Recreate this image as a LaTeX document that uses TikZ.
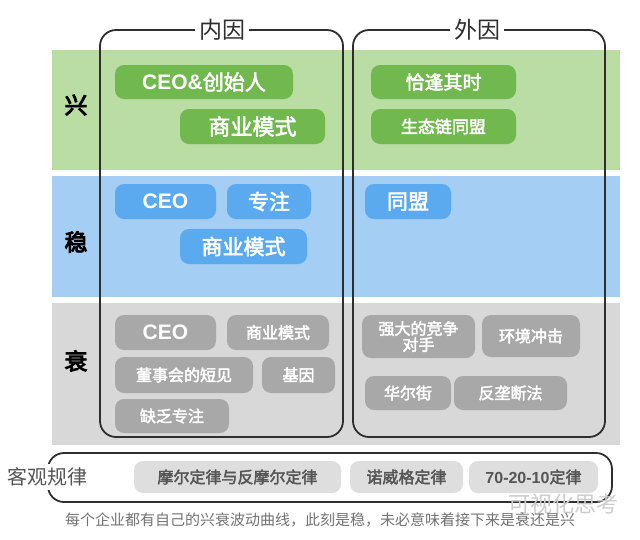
\documentclass[tikz,border=0pt]{standalone}
\usepackage{fontspec}
\setmainfont{Liberation Sans}
\newfontfamily\cjk[AutoFakeBold=2.5]{Noto Sans CJK SC}
\newfontfamily\cjkr{Noto Sans CJK SC}
\newfontfamily\cjkh[AutoFakeBold=4]{Noto Sans CJK SC}
\newcommand\fsz[1]{\fontsize{#1}{#1}\selectfont}
\definecolor{gband}{HTML}{B9DDA3}
\definecolor{gpillc}{HTML}{71B94F}
\definecolor{bband}{HTML}{A5CEF5}
\definecolor{bpillc}{HTML}{5BAAF0}
\definecolor{rband}{HTML}{D8D8D8}
\definecolor{rpillc}{HTML}{A8A8A8}
\definecolor{kpillc}{HTML}{DEDEDE}
\definecolor{ktext}{HTML}{555555}
\definecolor{frame}{HTML}{2E2E2E}
\tikzset{
  pill/.style={rounded corners=9pt, inner sep=0pt, text=white, align=center},
  gpill/.style={pill, fill=gpillc},
  bpill/.style={pill, fill=bpillc},
  rpill/.style={pill, fill=rpillc},
  kpill/.style={pill, fill=kpillc, text=ktext, minimum height=32},
  frbox/.style={draw=frame, line width=1.8pt, rounded corners=16pt},
  rowlab/.style={font=\cjkh\bfseries\fsz{23}, text=black},
  title/.style={fill=white, inner xsep=4pt, inner ysep=1pt, text=frame, font=\cjkr\fsz{23}},
}
\begin{document}
\begin{tikzpicture}[x=1pt,y=-1pt]
\useasboundingbox (0,0) rectangle (640,539);
% bands
\fill[gband] (52,50) rectangle (620,170);
\fill[bband] (52,176) rectangle (620,297);
\fill[rband] (52,303) rectangle (620,445);
% row labels
\node[rowlab] (xing) at (76,105) {兴};
\node[rowlab] (wen) at (76,242) {稳};
\node[rowlab] (shuai) at (76,361) {衰};
% frames
\draw[frbox] (100,30) rectangle (343,437);
\draw[frbox] (353,30) rectangle (605,437);
\node[title] (nei) at (222,30) {内因};
\node[title] (wai) at (477,30) {外因};
% green
\node[gpill, minimum width=178, minimum height=34, font=\bfseries\fsz{21}] (g1) at (204,82) {CEO\&{\cjk 创始人}};
\node[gpill, minimum width=145, minimum height=35, font=\cjk\bfseries\fsz{22}] (g2) at (252.5,126.5) {商业模式};
\node[gpill, minimum width=145, minimum height=34, font=\cjk\bfseries\fsz{19}] (g3) at (443.5,82) {恰逢其时};
\node[gpill, minimum width=145, minimum height=35, font=\cjk\bfseries\fsz{17}] (g4) at (443.5,126.5) {生态链同盟};
% blue
\node[bpill, minimum width=101, minimum height=35, font=\bfseries\fsz{21}] (b1) at (165.5,201.5) {CEO};
\node[bpill, minimum width=84, minimum height=35, font=\cjk\bfseries\fsz{21}] (b2) at (269,201.5) {专注};
\node[bpill, minimum width=127, minimum height=35, font=\cjk\bfseries\fsz{21}] (b3) at (243.5,246.5) {商业模式};
\node[bpill, minimum width=86, minimum height=35, font=\cjk\bfseries\fsz{21}] (b4) at (408,201.5) {同盟};
% gray
\node[rpill, minimum width=101, minimum height=35, font=\bfseries\fsz{21}] (r1) at (165.5,332.5) {CEO};
\node[rpill, minimum width=102, minimum height=35, font=\cjk\bfseries\fsz{16}] (r2) at (278,332.5) {商业模式};
\node[rpill, minimum width=138, minimum height=36, font=\cjk\bfseries\fsz{16}] (r3) at (184,375) {董事会的短见};
\node[rpill, minimum width=73, minimum height=36, font=\cjk\bfseries\fsz{16}] (r4) at (298.5,375) {基因};
\node[rpill, minimum width=114, minimum height=34, font=\cjk\bfseries\fsz{16}] (r5) at (172,416) {缺乏专注};
\node[rpill, minimum width=113, minimum height=43, font=\cjk\bfseries\fsz{16}] (r6) at (418.5,336.5) {强大的竞争\\对手};
\node[rpill, minimum width=98, minimum height=42, font=\cjk\bfseries\fsz{16}] (r7) at (531,336) {环境冲击};
\node[rpill, minimum width=86, minimum height=34, font=\cjk\bfseries\fsz{16}] (r8) at (408,393) {华尔街};
\node[rpill, minimum width=113, minimum height=34, font=\cjk\bfseries\fsz{16}] (r9) at (510.5,393) {反垄断法};
% bottom law box
\draw[frbox] (48,453) rectangle (612,502);
\node[fill=white, inner xsep=2pt, inner ysep=4pt, text=ktext, font=\cjkr\fsz{20}] (law) at (48,477) {客观规律};
\node[kpill, minimum width=207, font=\cjk\bfseries\fsz{16}] (k1) at (237.5,477) {摩尔定律与反摩尔定律};
\node[kpill, minimum width=113, font=\cjk\bfseries\fsz{16}] (k2) at (406.5,477) {诺威格定律};
\node[kpill, minimum width=129, font=\bfseries\fsz{16}] (k3) at (533.5,477) {70-20-10{\cjk 定律}};
% watermark
\node[text=black!20, font=\cjkr\fsz{22}, anchor=west, inner sep=0pt] (wm) at (508,504) {可视化思考};
% caption
\node[text=black!55, font=\cjkr\fsz{15}] (cap) at (320,520) {每个企业都有自己的兴衰波动曲线，此刻是稳，未必意味着接下来是衰还是兴};
\end{tikzpicture}
\end{document}
